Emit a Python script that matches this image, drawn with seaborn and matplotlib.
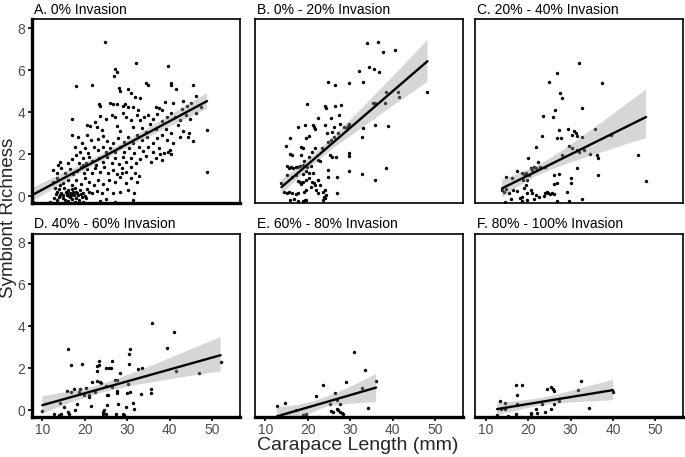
import numpy as np
import pandas as pd
import matplotlib
matplotlib.use("Agg")
import matplotlib.pyplot as plt
import seaborn as sns

sns.set_theme(style="white")
plt.rcParams['font.family'] = ['Liberation Sans', 'DejaVu Sans']

titles = ["A. 0% Invasion", "B. 0% - 20% Invasion", "C. 20% - 40% Invasion",
          "D. 40% - 60% Invasion", "E. 60% - 80% Invasion", "F. 80% - 100% Invasion"]
x_ticks = [10, 20, 30, 40, 50]
y_ticks = [0, 2, 4, 6, 8]

# (carapace length, symbiont richness)
pts_a = [(24.7, 7.33), (32.0, 6.37), (39.5, 6.22), (27.1, 6.04), (27.5, 5.93), (26.9, 5.72),
         (17.9, 5.25), (21.6, 5.29), (28.1, 5.17), (28.4, 5.02), (30.2, 5.09), (34.5, 5.37), (34.8, 5.29),
         (40.4, 5.37), (40.4, 5.29), (41.5, 5.09), (45.5, 5.29), (30.9, 4.93), (31.8, 4.74), (33.0, 4.69),
         (23.4, 4.39), (23.6, 4.29), (25.9, 4.42), (26.7, 4.39), (27.6, 4.39), (28.9, 4.29), (29.5, 4.39),
         (30.2, 4.23), (31.4, 4.26), (32.6, 4.10), (36.7, 4.26), (37.5, 4.18), (38.3, 4.10), (38.9, 4.50),
         (40.8, 4.42), (42.8, 4.13), (44.0, 4.29), (45.1, 4.42), (47.5, 4.23), (46.3, 3.97),
         (17.1, 3.66), (26.3, 3.86), (27.1, 3.75), (29.1, 3.94), (29.7, 3.75), (30.9, 3.62), (32.2, 3.86),
         (33.0, 3.62), (33.9, 3.78), (34.9, 3.86), (36.0, 3.66), (37.1, 3.91), (38.1, 3.59), (39.3, 3.78),
         (40.2, 3.94), (41.2, 3.78), (42.4, 3.62), (43.8, 3.86), (44.9, 3.66), (22.4, 3.55), (25.1, 3.66),
         (23.6, 3.82), (20.6, 3.39), (21.2, 3.34), (22.8, 3.28), (24.0, 3.15), (27.6, 3.34),
         (28.4, 3.12), (31.4, 3.31), (33.4, 3.23), (34.4, 3.07), (35.3, 3.43), (36.9, 3.18), (39.1, 3.18),
         (40.4, 3.02), (42.0, 3.39), (43.2, 3.12), (48.8, 3.15), (44.6, 2.99), (46.2, 4.75), (43.1, 4.55),
         (16.9, 2.91), (18.5, 2.83), (19.3, 2.54), (20.6, 2.91), (21.4, 2.67),
         (23.2, 2.70), (24.4, 2.86), (25.3, 2.64), (26.7, 2.51), (27.9, 2.75), (29.2, 2.59), (30.2, 2.83),
         (31.3, 2.54), (32.4, 2.91), (33.6, 2.67), (34.7, 2.83), (36.0, 2.51), (37.1, 2.75), (38.1, 2.91),
         (39.4, 2.67), (40.8, 2.54), (42.4, 2.83), (44.4, 2.83), (45.4, 2.64),
         (17.7, 2.35), (18.9, 2.11), (20.0, 2.27), (20.8, 2.07), (22.2, 2.35),
         (23.2, 2.19), (24.2, 2.35), (25.0, 2.11), (25.9, 2.27), (27.1, 2.11), (28.3, 2.35), (29.2, 2.11),
         (30.5, 2.27), (31.6, 2.07), (32.8, 2.35), (33.8, 2.16), (34.9, 2.35), (36.1, 2.11), (37.5, 2.27),
         (38.6, 2.07), (40.0, 2.19), (37.7, 2.00), (39.6, 2.11), (40.2, 2.00),
         (14.2, 1.64), (16.1, 1.56), (17.1, 1.75), (17.9, 1.96), (18.7, 1.59),
         (19.5, 1.80), (20.3, 1.56), (21.1, 1.88), (21.8, 1.69), (22.6, 1.48), (23.4, 1.84), (24.4, 1.64),
         (25.3, 1.88), (26.3, 1.59), (27.1, 1.80), (28.1, 1.53), (28.9, 1.88), (29.8, 1.64), (31.0, 1.84),
         (32.0, 1.56), (33.1, 1.75), (34.4, 1.91), (35.5, 1.64), (36.7, 1.84), (38.1, 1.72), (13.8, 1.48),
         (19.6, 1.48),
         (12.4, 1.24), (13.4, 1.08), (14.5, 1.32), (15.3, 1.11), (16.5, 1.27), (17.3, 1.05), (18.2, 1.21),
         (19.0, 1.40), (19.8, 1.11), (20.6, 1.27), (21.6, 1.08), (22.4, 1.32), (23.6, 1.16), (24.5, 1.40),
         (25.5, 1.08), (26.7, 1.24), (27.6, 1.05), (28.7, 1.32), (29.7, 1.16), (30.8, 1.40), (31.8, 1.08),
         (32.8, 0.95), (28.7, 1.08),
         (12.6, 0.68), (13.5, 0.84), (14.9, 0.64), (16.1, 0.79), (16.9, 0.52), (17.9, 0.76), (19.0, 0.60),
         (20.0, 0.84), (21.1, 0.68), (22.2, 0.52), (23.2, 0.76), (24.4, 0.60), (25.8, 0.79), (27.1, 0.68),
         (28.4, 0.92), (29.7, 0.64), (31.0, 0.84), (32.4, 0.68), (14.2, 0.52),
         (13.0, 0.37), (13.5, 0.21), (14.0, 0.32), (14.5, 0.16), (15.1, 0.37), (15.6, 0.21), (16.1, 0.29),
         (16.5, 0.13), (16.9, 0.32), (17.3, 0.19), (17.7, 0.37), (18.2, 0.13), (18.9, 0.29), (19.6, 0.16),
         (20.6, 0.32), (21.6, 0.13), (22.8, 0.25), (24.0, 0.16), (25.3, 0.32), (26.7, 0.13), (28.4, 0.21),
         (30.2, 0.29), (31.6, 0.13), (15.7, 0.05), (16.7, 0.06), (17.5, 0.03), (14.2, 0.03),
         (13.2, 0.10), (14.8, 0.05), (15.9, 0.15), (16.3, 0.02), (17.0, 0.10), (17.9, 0.20), (18.4, 0.05),
         (19.1, 0.12), (20.0, 0.00), (21.0, 0.18), (12.8, -0.10), (14.0, -0.05), (15.3, -0.20),
         (16.6, -0.05), (18.0, -0.10), (19.3, -0.05),
         (11.8, -0.27), (13.5, -0.19), (14.9, -0.11), (16.1, -0.22), (16.9, -0.16), (17.7, -0.27),
         (18.7, -0.19), (19.6, -0.27), (23.6, -0.24), (25.1, -0.16), (27.1, -0.27), (31.4, -0.19),
         (20.4, -0.11), (48.8, 1.16), (7.9, -0.30)]

pts_b = [(34.0, 7.31), (36.6, 7.34), (37.7, 6.85), (40.6, 6.96), (32.0, 5.98), (34.5, 6.17), (35.5, 6.04),
         (36.7, 5.93), (24.8, 5.45), (26.3, 5.29), (29.8, 5.37), (33.0, 5.42), (38.4, 4.98), (41.3, 4.98),
         (41.4, 4.71), (48.2, 4.94), (35.3, 4.42), (35.8, 4.42), (38.3, 4.42), (19.9, 4.37), (24.0, 4.29),
         (24.2, 4.18), (26.3, 4.29), (27.9, 4.34), (22.3, 3.70), (25.4, 3.70), (27.3, 3.86), (17.6, 3.31),
         (19.3, 3.39), (21.3, 3.39), (21.5, 3.31), (21.7, 3.18), (24.1, 3.39), (26.2, 3.31), (27.7, 3.43),
         (28.5, 3.31), (29.5, 3.34), (29.8, 3.43), (33.0, 3.26), (35.9, 3.39), (38.9, 3.34), (15.9, 2.75),
         (14.8, 2.40), (18.4, 2.35), (18.8, 2.27), (19.5, 2.75), (20.3, 2.86), (21.7, 2.31), (23.3, 2.31),
         (24.8, 2.59), (24.6, 2.99), (25.6, 3.07), (27.1, 2.99), (26.2, 2.83), (25.4, 2.67), (29.3, 3.23),
         (32.7, 2.83), (15.9, 2.00), (16.2, 1.96), (18.4, 1.96), (19.1, 1.67), (20.3, 1.88), (21.1, 2.11),
         (22.3, 1.72), (23.0, 1.69), (25.2, 1.96), (25.6, 1.88), (26.7, 1.88), (29.7, 2.07), (29.8, 1.91),
         (15.0, 1.43), (15.6, 1.32), (16.0, 1.40), (16.6, 1.32), (17.2, 1.40), (17.6, 1.40), (18.1, 1.43),
         (18.8, 1.48), (19.5, 1.21), (19.9, 1.40), (20.7, 1.45), (15.0, 1.00), (16.3, 0.92), (17.2, 1.00),
         (18.8, 1.05), (20.2, 1.11), (21.3, 1.08), (22.3, 0.76), (24.8, 1.24), (24.8, 0.92), (27.0, 0.89),
         (29.7, 1.21), (32.7, 1.05), (38.4, 1.32), (35.9, 0.76), (13.8, 0.64), (17.6, 0.72), (18.1, 0.68),
         (18.4, 0.60), (18.8, 0.68), (19.7, 0.76), (20.3, 0.84), (20.9, 0.68), (21.5, 0.64), (22.3, 0.76),
         (20.7, 0.45), (21.7, 0.52), (23.0, 0.52), (14.5, 0.21), (15.0, 0.16), (15.6, 0.21), (16.4, 0.13),
         (17.3, 0.08), (17.6, 0.16), (19.1, 0.21), (19.5, 0.29), (21.9, 0.29), (22.3, 0.16), (23.7, 0.21),
         (24.1, 0.29), (24.2, 0.05), (15.9, -0.19), (16.8, -0.16), (17.6, -0.24), (18.8, -0.24),
         (19.4, -0.19), (19.7, -0.19), (23.7, -0.19), (24.1, -0.11), (27.0, 0.13), (23.8, -0.03)]

pts_c = [(32.1, 6.36), (26.7, 5.88), (24.9, 5.45), (37.5, 5.37), (27.5, 4.90), (28.0, 4.66), (32.7, 4.18),
         (26.3, 4.10), (23.6, 3.82), (25.9, 3.78), (27.3, 3.15), (29.5, 3.18), (30.9, 3.10), (31.2, 2.99),
         (35.7, 3.18), (23.2, 2.86), (26.9, 2.75), (27.8, 2.75), (30.4, 2.91), (31.6, 2.86), (32.7, 2.83),
         (39.6, 2.91), (21.8, 2.35), (29.6, 2.38), (30.4, 2.27), (31.6, 2.19), (32.0, 2.11), (33.1, 2.19),
         (28.0, 1.96), (34.7, 2.03), (36.3, 1.96), (36.5, 1.80), (45.8, 1.96), (20.0, 1.80), (22.4, 1.64),
         (21.4, 1.40), (20.6, 1.32), (21.0, 1.24), (21.8, 1.32), (22.7, 1.40), (17.5, 1.21), (18.5, 1.11),
         (19.0, 1.05), (19.4, 1.08), (20.2, 1.00), (24.1, 1.40), (31.6, 1.32), (14.9, 0.89), (16.3, 0.87),
         (18.9, 0.76), (19.4, 0.52), (19.8, 0.79), (26.2, 1.00), (27.4, 1.05), (26.1, 0.60), (26.7, 0.64),
         (30.0, 0.84), (30.2, 0.64), (36.5, 1.00), (47.8, 0.72), (13.9, 0.29), (14.3, 0.21), (14.9, 0.33),
         (15.5, 0.13), (16.4, 0.31), (17.5, 0.25), (19.0, 0.37), (19.8, 0.16), (20.6, 0.29), (21.0, 0.13),
         (24.1, 0.16), (24.5, 0.21), (24.7, 0.13), (25.1, 0.10), (25.7, 0.16), (26.1, 0.08), (29.1, 0.21),
         (22.5, -0.03), (23.7, 0.00), (21.9, 0.05), (18.2, -0.11), (18.6, -0.06), (19.8, -0.19),
         (21.4, -0.16), (26.7, -0.24), (29.6, -0.24), (32.7, -0.16), (14.5, -0.27), (15.9, -0.16),
         (18.6, -0.24)]

pts_d = [(10.0, -0.03), (12.7, -0.16), (13.9, -0.24), (14.5, -0.20), (14.2, 0.35), (15.1, 0.16), (15.7, 0.94),
         (16.1, -0.08), (16.4, -0.16), (16.1, 2.90), (16.7, 2.16), (16.7, 0.86), (17.5, 1.02), (17.7, 0.00),
         (18.2, 0.31), (18.9, 1.02), (18.7, 0.86), (19.4, 2.20), (19.9, 0.71), (20.4, 1.07), (21.1, 0.71),
         (21.1, 0.63), (21.4, 0.19), (21.6, 1.33), (22.4, 0.86), (22.8, 1.85), (23.0, 2.09), (23.3, 2.16),
         (23.4, 2.35), (23.0, 1.41), (23.6, 1.33), (23.8, 1.28), (24.2, -0.08), (24.5, 0.03), (25.0, -0.16),
         (24.4, -0.16), (25.0, 1.18), (25.1, 2.00), (25.6, 2.04), (26.2, 2.04), (26.3, 2.35), (25.3, 0.71),
         (25.5, 0.74), (25.3, 0.24), (26.5, 1.10), (27.1, 1.44), (27.6, 1.44), (27.3, -0.16), (27.6, 0.94),
         (27.6, 0.82), (27.9, 0.31), (28.4, 1.80), (29.1, -0.16), (29.2, -0.22), (29.8, 0.16), (30.0, 0.82),
         (30.2, 1.26), (30.4, 2.67), (30.6, 2.90), (30.5, 2.23), (30.6, 0.86), (31.4, 0.35), (31.6, 0.08),
         (32.6, 1.96), (33.6, 2.04), (33.2, 0.78), (35.7, 1.02), (35.7, 0.82), (35.9, 4.16), (39.4, 2.95),
         (41.1, 3.73), (41.5, 1.88), (46.9, 1.77), (52.0, 2.31)]

pts_e = [(12.7, 0.20), (14.6, 0.36), (17.2, 0.03), (19.5, -0.16), (18.9, -0.24), (21.9, 0.67), (23.7, 1.22),
         (25.2, 0.28), (25.4, -0.03), (26.0, -0.08), (26.3, 0.82), (26.8, 0.47), (27.0, 0.08), (27.2, 0.00),
         (27.5, -0.08), (28.0, -0.13), (28.4, -0.16), (27.5, 0.28), (29.1, 1.35), (30.9, 2.79), (32.7, 1.07),
         (33.4, 1.91), (34.2, 0.11), (36.1, 1.38), (22.7, -0.31)]

pts_f = [(13.5, 0.42), (14.5, 0.36), (14.5, 0.05), (13.7, 0.06), (17.1, 1.22), (18.5, 1.21), (17.5, 0.71),
         (17.3, 0.31), (17.2, -0.20), (18.2, -0.31), (20.6, -0.19), (20.8, -0.13), (21.9, 0.08), (22.2, -0.13),
         (22.4, -0.31), (23.3, 0.28), (23.9, -0.08), (24.5, 1.02), (25.3, 0.05), (25.5, 1.10), (25.8, 1.02),
         (26.1, 0.94), (26.1, 0.31), (27.4, 0.42), (31.7, 0.99), (32.5, 1.41), (34.3, 0.13), (40.0, 0.89),
         (12.7, -0.24), (15.3, -0.28)]

panels = [pts_a, pts_b, pts_c, pts_d, pts_e, pts_f]

W, H = 685, 457
fig = plt.figure(figsize=(W / 100, H / 100), dpi=100)
col_left = [31.7, 254.7, 475.0]
row_top = [19.3, 233.5]
pw, ph = 208.0, 183.5

for i, (title, pts) in enumerate(zip(titles, panels)):
    r, c = divmod(i, 3)
    ax = fig.add_axes([col_left[c] / W, 1 - (row_top[r] + ph) / H, pw / W, ph / H])
    df = pd.DataFrame(pts, columns=["length", "richness"])
    sns.regplot(data=df, x="length", y="richness", ax=ax, color="black", truncate=True, seed=3,
                scatter_kws={"s": 6, "linewidths": 0, "alpha": 1},
                line_kws={"lw": 1.7})
    # ggplot-like grey band drawn over the points
    for coll in ax.collections[1:]:
        coll.set_alpha(0.4)
        coll.set_facecolor((0.6, 0.6, 0.6))
        coll.set_edgecolor("none")

    ax.set_xlim(7.5, 56.5)
    ax.set_ylim(-0.32, 8.43)
    ax.set_xticks(x_ticks)
    ax.set_yticks(y_ticks)
    ax.set_xlabel("")
    ax.set_ylabel("")
    ax.tick_params(length=3, width=1.2, color="black", labelcolor="#4d4d4d", labelsize=10, pad=1.5,
                   bottom=(r == 1), left=(c == 0), labelbottom=(r == 1), labelleft=(c == 0))
    for side, sp in ax.spines.items():
        sp.set_color("black")
        sp.set_linewidth(1.2)
    if c == 0:
        ax.spines["left"].set_linewidth(2.4)
    if r == 1 or c == 0:
        ax.spines["bottom"].set_linewidth(2.4)
    ax.text(0.01, 1.012, title, transform=ax.transAxes, ha="left", va="bottom", fontsize=10, color="black")

fig.text(9 / W, 1 - 218 / H, "Symbiont Richness", rotation=90, ha="center", va="center", fontsize=13.5)
fig.text(358 / W, 1 - 446 / H, "Carapace Length (mm)", ha="center", va="center", fontsize=14)

plt.savefig("out.png", dpi=100)
